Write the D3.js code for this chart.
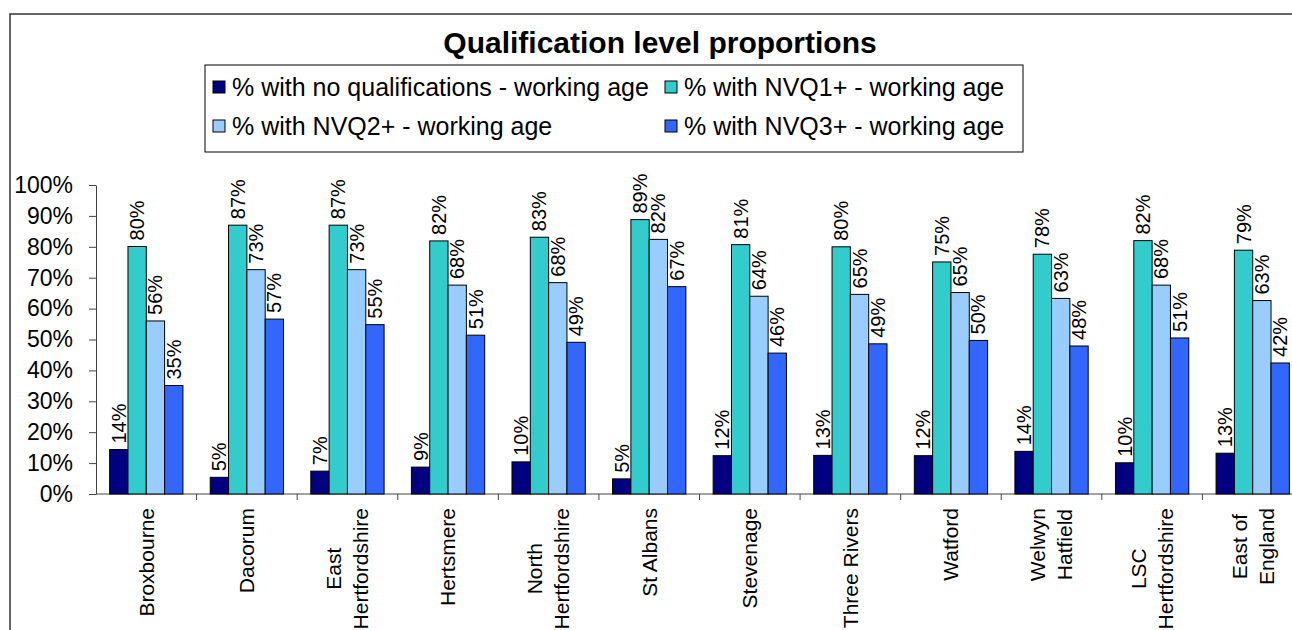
<!DOCTYPE html>
<html>
<head>
<meta charset="utf-8">
<script src="https://cdn.jsdelivr.net/npm/d3@7"></script>
<style>
  body { margin: 0; background: #fff; }
  svg { display: block; font-family: "Liberation Sans", Arial, sans-serif; }
</style>
</head>
<body>
<svg id="chart" width="1292" height="630"></svg>
<script>
// areas along the x axis
var categories = ['Broxbourne', 'Dacorum', 'East\nHertfordshire', 'Hertsmere', 'North\nHertfordshire',
    'St Albans', 'Stevenage', 'Three Rivers', 'Watford', 'Welwyn\nHatfield', 'LSC\nHertfordshire', 'East of\nEngland'];

var seriesNames = ['% with no qualifications - working age', '% with NVQ1+ - working age',
    '% with NVQ2+ - working age', '% with NVQ3+ - working age'];

// values in percent
var noQual = [14.4, 5.4, 7.4, 8.7, 10.4, 4.9, 12.4, 12.5, 12.4, 13.8, 10.1, 13.2];
var nvq1   = [80.1, 87.0, 87.0, 81.9, 83.1, 88.8, 80.7, 80.0, 75.1, 77.6, 82.0, 78.9];
var nvq2   = [56.0, 72.6, 72.6, 67.6, 68.4, 82.4, 64.0, 64.6, 65.2, 63.3, 67.6, 62.6];
var nvq3   = [35.1, 56.6, 54.8, 51.4, 49.1, 67.1, 45.6, 48.6, 49.7, 47.9, 50.5, 42.4];

var yTicks = [0, 10, 20, 30, 40, 50, 60, 70, 80, 90, 100];

var colors = ['#000080', '#33CCCC', '#99CCFF', '#3366FF'];
var allSeries = [noQual, nvq1, nvq2, nvq3];

var svg = d3.select('#chart');

// outer chart frame (runs off the picture on the right and bottom)
svg.append('rect')
    .attr('x', 10).attr('y', 14)
    .attr('width', 1320).attr('height', 700)
    .attr('fill', 'none')
    .attr('stroke', '#333')
    .attr('stroke-width', 1.5);

// title
svg.append('text')
    .attr('x', 660).attr('y', 53)
    .attr('text-anchor', 'middle')
    .style('font-size', '30px')
    .style('font-weight', 'bold')
    .text('Qualification level proportions');

// legend
var legend = svg.append('g');
legend.append('rect')
    .attr('x', 205).attr('y', 65)
    .attr('width', 818).attr('height', 87)
    .attr('fill', '#fff')
    .attr('stroke', '#000')
    .attr('stroke-width', 1);

var legendPos = [[213, 87], [665, 87], [213, 126], [665, 126]];
seriesNames.forEach(function (name, i) {
    var p = legendPos[i];
    legend.append('rect')
        .attr('x', p[0]).attr('y', p[1] - 6)
        .attr('width', 12).attr('height', 12)
        .attr('fill', colors[i])
        .attr('stroke', '#000')
        .attr('stroke-width', 1);
    legend.append('text')
        .attr('x', p[0] + 19).attr('y', p[1])
        .attr('dy', '0.35em')
        .style('font-size', '25px')
        .text(name);
});

// scales
var x = d3.scaleBand()
    .domain(categories)
    .range([96, 1303])
    .padding(0);

var inner = d3.scaleBand()
    .domain(d3.range(4))
    .range([0, x.bandwidth()])
    .paddingInner(0)
    .paddingOuter(0.745);

var y = d3.scaleLinear()
    .domain([0, 100])
    .range([494, 185]);

// y axis
var yAxis = svg.append('g')
    .attr('transform', 'translate(96,0)')
    .call(d3.axisLeft(y)
        .tickValues(yTicks)
        .tickSize(7)
        .tickSizeOuter(0)
        .tickPadding(16)
        .tickFormat(function (d) { return d + '%'; }));
yAxis.selectAll('path, line').attr('stroke', '#444');
yAxis.selectAll('text')
    .attr('fill', '#000')
    .style('font-size', '23px')
    .style('font-family', '"Liberation Sans", Arial, sans-serif');

// x axis line with ticks between categories
var xAxis = svg.append('g');
xAxis.append('line')
    .attr('x1', 96).attr('x2', 1292)
    .attr('y1', y(0)).attr('y2', y(0))
    .attr('stroke', '#444');
xAxis.selectAll('line.tick')
    .data(categories.slice(1))
    .enter().append('line')
    .attr('class', 'tick')
    .attr('x1', function (d) { return x(d); })
    .attr('x2', function (d) { return x(d); })
    .attr('y1', y(0)).attr('y2', y(0) + 6)
    .attr('stroke', '#444');

// bars
var groups = svg.selectAll('g.cat')
    .data(categories)
    .enter().append('g')
    .attr('class', 'cat')
    .attr('transform', function (d) { return 'translate(' + x(d) + ',0)'; });

var fmt = d3.format('.0f');

allSeries.forEach(function (vals, s) {
    groups.append('rect')
        .attr('x', inner(s))
        .attr('y', function (d, i) { return y(vals[i]); })
        .attr('width', inner.bandwidth())
        .attr('height', function (d, i) { return y(0) - y(vals[i]); })
        .attr('fill', colors[s])
        .attr('stroke', '#000')
        .attr('stroke-width', 1);

    groups.append('text')
        .attr('transform', function (d, i) {
            return 'translate(' + (inner(s) + inner.bandwidth() / 2) + ',' + (y(vals[i]) - 6) + ')rotate(-90)';
        })
        .attr('dy', '0.35em')
        .style('font-size', '20px')
        .text(function (d, i) { return fmt(vals[i]) + '%'; });
});

// category labels, rotated, top aligned with lines centred on each other
var labelTop = 508;
var lineGap = 27;
groups.each(function (d) {
    var g = d3.select(this);
    var lines = d.split('\n');
    var cx = x.bandwidth() / 2;
    var lbl = g.append('g');
    var texts = lines.map(function (line, i) {
        return lbl.append('text')
            .attr('text-anchor', 'middle')
            .attr('dy', '0.35em')
            .style('font-size', '21px')
            .text(line);
    });
    var maxW = d3.max(texts, function (t) { return t.node().getComputedTextLength(); });
    texts.forEach(function (t, i) {
        var off = (i - (lines.length - 1) / 2) * lineGap;
        t.attr('transform', 'translate(' + (cx + off) + ',' + (labelTop + maxW / 2) + ')rotate(-90)');
    });
});
</script>
</body>
</html>
